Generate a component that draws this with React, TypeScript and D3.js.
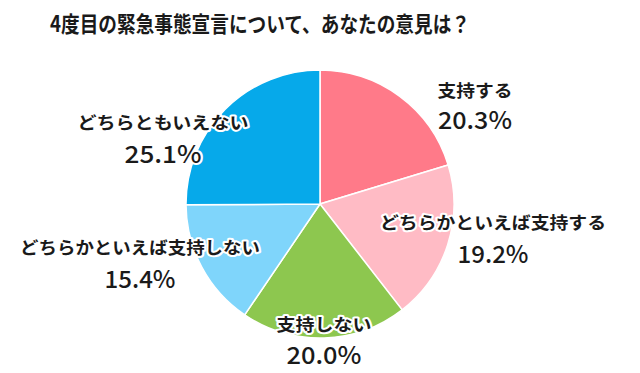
import React from "react";
import * as d3 from "d3";

const title = "4度目の緊急事態宣言について、あなたの意見は？";
const categories = ["支持する", "どちらかといえば支持する", "支持しない", "どちらかといえば支持しない", "どちらともいえない"];
const values = [20.3, 19.2, 20.0, 15.4, 25.1];
const colors = ["#FF7A89", "#FFBBC5", "#8DC74F", "#7FD5FB", "#06A9EA"];

// label anchor positions (center x, label baseline, pct baseline)
const labelPos = [
  { x: 475, y1: 97, y2: 129, w1: 75, w2: 74 },
  { x: 493, y1: 229, y2: 263, w1: 226, w2: 71 },
  { x: 324, y1: 331, y2: 364, w1: 95, w2: 75 },
  { x: 140, y1: 254, y2: 288, w1: 240, w2: 71 },
  { x: 163, y1: 129, y2: 163, w1: 171, w2: 77 },
];

export default function App() {
  const W = 640, H = 373;
  const cx = 320, cy = 204, r = 134;
  const pie = d3.pie<number>().sort(null).value((d) => d)(values);
  const arc = d3.arc<d3.PieArcDatum<number>>().innerRadius(0).outerRadius(r);
  const font = "'Noto Sans CJK JP', 'Noto Sans', sans-serif";
  const outline = { stroke: "#fff", strokeWidth: 4, strokeLinejoin: "round" as const, paintOrder: "stroke" };
  return (
    <svg width={W} height={H} style={{ position: "absolute", left: 0, top: 0, background: "#fff" }}>
      <text x={50} y={32} fontFamily={font} fontSize={22} fontWeight={700} fill="#1a1a1a" textLength={420} lengthAdjust="spacingAndGlyphs">{title}</text>
      <g transform={`translate(${cx},${cy})`}>
        {pie.map((p, i) => (
          <path key={i} d={arc(p) || ""} fill={colors[i]} stroke="#fff" strokeWidth={1.5} />
        ))}
      </g>
      {categories.map((c, i) => {
        const lp = labelPos[i];
        return (
          <g key={c} fontFamily={font} fill="#1a1a1a" textAnchor="middle">
            <text x={lp.x} y={lp.y1} fontSize={17} fontWeight={700} textLength={lp.w1} lengthAdjust="spacingAndGlyphs" style={outline}>{c}</text>
            <text x={lp.x} y={lp.y2} fontSize={24} fontWeight={500} textLength={lp.w2} lengthAdjust="spacingAndGlyphs" style={outline}>{values[i].toFixed(1)}%</text>
          </g>
        );
      })}
    </svg>
  );
}
